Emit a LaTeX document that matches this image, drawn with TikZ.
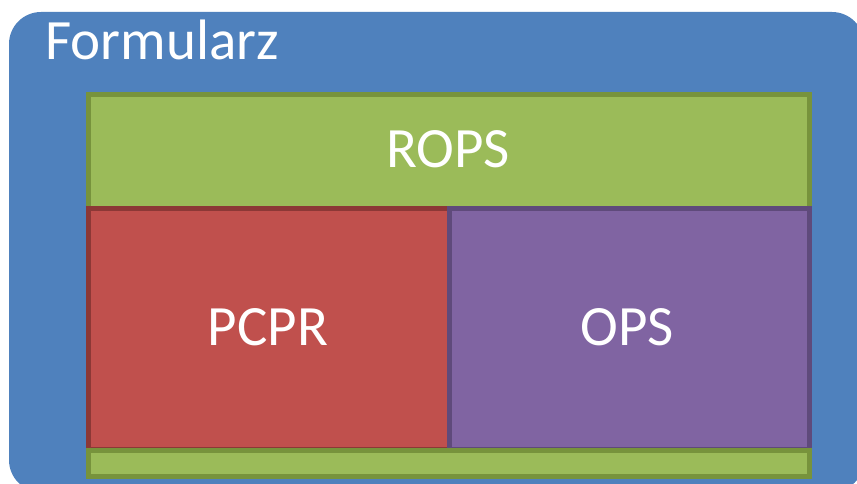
\documentclass[tikz,border=0pt]{standalone}
\usepackage{fontspec}
\setmainfont{Carlito}
\usetikzlibrary{positioning}

\definecolor{formblue}{HTML}{4F81BD}
\definecolor{ropsgreen}{HTML}{9BBB59}
\definecolor{ropsline}{HTML}{77933C}
\definecolor{pcprred}{HTML}{C0504D}
\definecolor{pcprline}{HTML}{8C3836}
\definecolor{opsviolet}{HTML}{8064A2}
\definecolor{opsline}{HTML}{5F4A7B}

\tikzset{
  part/.style={line width=5pt},
  label/.style={text=white, font=\fontsize{57}{63}\selectfont, inner sep=0pt}
}

\begin{document}
\begin{tikzpicture}[x=1pt,y=-1pt]
  \useasboundingbox (0,0) rectangle (857,484);
  \clip (0,0) rectangle (857,484);

  % Form
  \fill[white] (0,0) rectangle (857,484);
  \fill[formblue, rounded corners=32pt] (9,12) rectangle (864,492);
  \node[label, anchor=base west] (formularz) at (45,60) {Formularz};

  % ROPS
  \filldraw[part, fill=ropsgreen, draw=ropsline] (88.5,94.5) rectangle (809.5,208);
  \node[label] (rops) at (448,149) {ROPS};

  % PCPR
  \filldraw[part, fill=pcprred, draw=pcprline] (88.5,208) rectangle (449,449);
  \node[label] (pcpr) at (268,327) {PCPR};

  % OPS
  \filldraw[part, fill=opsviolet, draw=opsline] (449,208) rectangle (809.5,449);
  \node[label] (ops) at (627,327) {OPS};

  % Bottom strip
  \filldraw[part, fill=ropsgreen, draw=ropsline] (88.5,450.5) rectangle (809.5,476.5);
\end{tikzpicture}
\end{document}
